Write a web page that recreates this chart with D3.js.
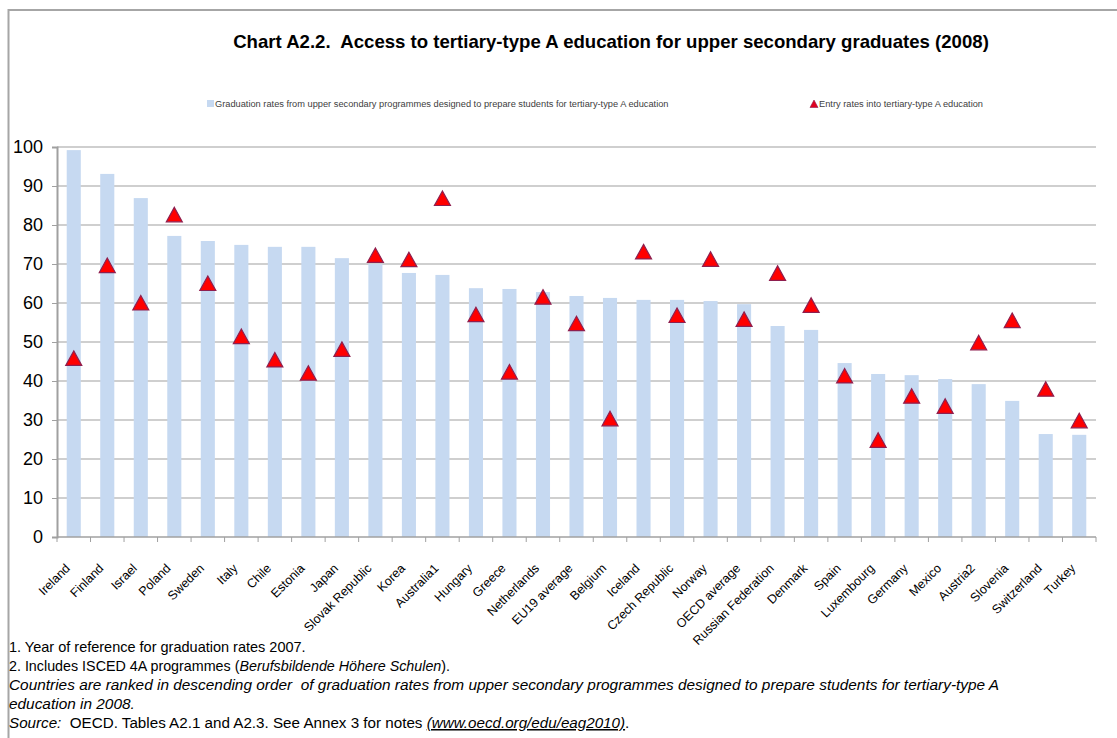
<!DOCTYPE html>
<html><head><meta charset="utf-8">
<script src="https://cdn.jsdelivr.net/npm/d3@7"></script>
<style>
body{margin:0;background:#fff;}
svg{display:block;font-family:"Liberation Sans",Arial,sans-serif;}
text{white-space:pre;}
</style></head>
<body>
<svg id="chart" width="1117" height="738"></svg>
<script>
const categories = ["Ireland","Finland","Israel","Poland","Sweden","Italy","Chile","Estonia","Japan","Slovak Republic","Korea","Australia1","Hungary","Greece","Netherlands","EU19 average","Belgium","Iceland","Czech Republic","Norway","OECD average","Russian Federation","Denmark","Spain","Luxembourg","Germany","Mexico","Austria2","Slovenia","Switzerland","Turkey"];
const graduationRates = [99.2,93.1,86.9,77.2,75.9,74.9,74.4,74.4,71.5,70.0,67.7,67.2,63.8,63.6,62.8,61.8,61.3,60.8,60.8,60.5,59.7,54.1,53.1,44.6,41.8,41.5,40.5,39.2,34.9,26.4,26.2];
const entryRates = [45.8,69.6,60.0,82.6,65.0,51.4,45.4,42.0,48.1,72.2,71.1,86.8,57.0,42.3,61.5,54.7,30.3,73.1,56.8,71.2,55.8,67.6,59.4,41.3,24.8,36.1,33.5,49.8,55.5,37.9,29.8];
const yTicks = [0,10,20,30,40,50,60,70,80,90,100];
const titleText = "Chart A2.2.  Access to tertiary-type A education for upper secondary graduates (2008)";
const legendLabels = ["Graduation rates from upper secondary programmes designed to prepare students for tertiary-type A education","Entry rates into tertiary-type A education"];

const svg = d3.select("#chart");
const M = {left:57, right:1096, top:147, bottom:537};

// frame
svg.append("rect").attr("x",8.5).attr("y",10).attr("width",1120).attr("height",740)
  .attr("fill","none").attr("stroke","#a6a6a6").attr("stroke-width",2);

svg.append("text").attr("x",611).attr("y",48).attr("text-anchor","middle")
  .attr("font-size",18.6).attr("font-weight","bold").attr("fill","#000").text(titleText);

const x = d3.scaleBand().domain(categories).range([M.left,M.right]).paddingInner(0.58).paddingOuter(0.29);
const y = d3.scaleLinear().domain([0,100]).range([M.bottom,M.top]);

// gridlines
svg.append("g").selectAll("line").data(yTicks.filter(d=>d>0)).join("line")
  .attr("x1",M.left).attr("x2",M.right).attr("y1",d=>y(d)).attr("y2",d=>y(d))
  .attr("stroke","#a0a0a0").attr("stroke-width",1.2);

// y axis
const yAxis = svg.append("g").attr("transform",`translate(${M.left},0)`)
  .call(d3.axisLeft(y).tickValues(yTicks).tickSize(5).tickPadding(9));
yAxis.select(".domain").attr("stroke","#a0a0a0").attr("stroke-width",2);
yAxis.selectAll(".tick line").attr("stroke","#a0a0a0");
yAxis.selectAll("text").attr("font-size",18).attr("fill","#000").attr("font-family","Liberation Sans, Arial");

// bars
svg.append("g").selectAll("rect").data(categories).join("rect")
  .attr("x",d=>x(d)).attr("width",x.bandwidth())
  .attr("y",(d,i)=>y(graduationRates[i])).attr("height",(d,i)=>y(0)-y(graduationRates[i]))
  .attr("fill","#c6d9f1");

// x axis
const step = x.step();
const xa = svg.append("g").attr("transform",`translate(0,${M.bottom})`);
xa.append("line").attr("x1",M.left).attr("x2",M.right).attr("stroke","#a0a0a0").attr("stroke-width",1.5);
const bounds = [M.left].concat(categories.map(c=>x(c)+x.bandwidth()/2+step/2));
xa.selectAll("line.tk").data(bounds).join("line").attr("class","tk")
  .attr("x1",d=>d).attr("x2",d=>d).attr("y1",0).attr("y2",5).attr("stroke","#a0a0a0");
xa.selectAll("text").data(categories).join("text")
  .attr("transform",d=>`translate(${x(d)+x.bandwidth()/2-3},${32}) rotate(-45)`)
  .attr("text-anchor","end").attr("font-size",12.5).attr("fill","#000").text(d=>d);

// triangles
const tri = "M0,-7.5L8,7L-8,7Z";
svg.append("g").selectAll("path").data(categories).join("path")
  .attr("d",tri)
  .attr("transform",(d,i)=>`translate(${x(d)+x.bandwidth()/2},${y(entryRates[i])})`)
  .attr("fill","#ff0000").attr("stroke","#8e1f4f").attr("stroke-width",1.2);

// legend
const lg = svg.append("g").attr("font-size",9.25).attr("fill","#404040");
lg.append("rect").attr("x",207).attr("y",100).attr("width",7).attr("height",7).attr("fill","#c6d9f1");
lg.append("text").attr("x",215).attr("y",107).text(legendLabels[0]);
lg.append("path").attr("d","M0,-4L4,3.5L-4,3.5Z").attr("transform","translate(814,104)")
  .attr("fill","#e00020").attr("stroke","#8e1f4f").attr("stroke-width",0.6);
lg.append("text").attr("x",819).attr("y",107).text(legendLabels[1]);

// footnotes
const fn = svg.append("g").attr("fill","#000");
fn.append("text").attr("x",9).attr("y",652).attr("font-size",14.5)
  .text("1. Year of reference for graduation rates 2007.");
const t2 = fn.append("text").attr("x",9).attr("y",671).attr("font-size",14.3);
t2.append("tspan").text("2. Includes ISCED 4A programmes (");
t2.append("tspan").attr("font-style","italic").text("Berufsbildende Höhere Schulen");
t2.append("tspan").text(").");
fn.append("text").attr("x",9).attr("y",690).attr("font-style","italic").attr("font-size",15.4)
  .text("Countries are ranked in descending order  of graduation rates from upper secondary programmes designed to prepare students for tertiary-type A");
fn.append("text").attr("x",9).attr("y",709).attr("font-style","italic").attr("font-size",15.4).text("education in 2008.");
const t5 = fn.append("text").attr("x",9).attr("y",728).attr("font-size",15.2);
t5.append("tspan").attr("font-style","italic").text("Source:");
t5.append("tspan").text("  OECD. Tables A2.1 and A2.3. See Annex 3 for notes ");
t5.append("tspan").attr("font-style","italic").attr("text-decoration","underline").text("(www.oecd.org/edu/eag2010)");
t5.append("tspan").text(".");
</script>
</body></html>
